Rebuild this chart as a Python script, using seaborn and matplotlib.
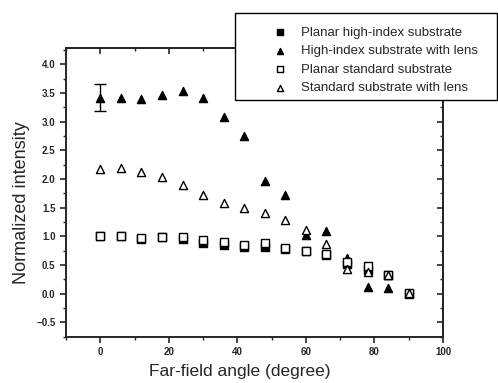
import matplotlib
matplotlib.use("Agg")
import matplotlib.pyplot as plt
from matplotlib.patches import Rectangle
from matplotlib.ticker import MultipleLocator
import seaborn as sns
import pandas as pd

angles = [0, 6, 12, 18, 24, 30, 36, 42, 48, 54, 60, 66, 72, 78, 84, 90]
planar_high = [1.00, 1.00, 0.96, 0.98, 0.95, 0.88, 0.85, 0.82, 0.81, 0.78, 0.74, 0.67, 0.52, 0.42, 0.33, 0.00]
lens_high = [3.42, 3.42, 3.40, 3.47, 3.54, 3.42, 3.08, 2.75, 1.96, 1.72, 1.03, 1.09, 0.63, 0.12, 0.09, 0.01]
planar_std = [1.01, 1.01, 0.97, 0.98, 0.98, 0.93, 0.90, 0.84, 0.88, 0.79, 0.75, 0.70, 0.55, 0.48, 0.33, 0.01]
lens_std = [2.17, 2.19, 2.12, 2.03, 1.90, 1.72, 1.58, 1.50, 1.40, 1.28, 1.11, 0.87, 0.43, 0.38, 0.33, 0.02]
err_x = 0
err_y = 3.42
err_lo, err_hi = 3.18, 3.65

series = [
    ("Planar high-index substrate", planar_high, "s", "black", 26),
    ("High-index substrate with lens", lens_high, "^", "black", 34),
    ("Planar standard substrate", planar_std, "s", "white", 26),
    ("Standard substrate with lens", lens_std, "^", "white", 34),
]

sns.set_style("ticks")
plt.rcParams["font.family"] = ["Liberation Sans", "DejaVu Sans"]

fig = plt.figure(figsize=(4.98, 3.83), dpi=100)
ax = fig.add_axes([0.1325, 0.121, 0.757, 0.753])

for name, vals, mk, fc, size in series:
    df = pd.DataFrame({"angle": angles, "intensity": vals})
    sns.scatterplot(data=df, x="angle", y="intensity", marker=mk, s=size,
                    color=fc, edgecolor="black", linewidth=1.0, label=name,
                    ax=ax, zorder=3)

ax.errorbar([err_x], [err_y], yerr=[[err_y - err_lo], [err_hi - err_y]],
            fmt="none", ecolor="black", elinewidth=1.0, capsize=4, capthick=1.0, zorder=2)

ax.set_xlim(-10, 100)
ax.set_ylim(-0.75, 4.28)
ax.xaxis.set_major_locator(MultipleLocator(20))
ax.xaxis.set_minor_locator(MultipleLocator(10))
ax.set_yticks([-0.5, 0, 0.5, 1, 1.5, 2, 2.5, 3, 3.5, 4.0])
ax.yaxis.set_minor_locator(MultipleLocator(0.25))

for sp in ax.spines.values():
    sp.set_visible(True)
    sp.set_linewidth(1.4)
ax.tick_params(which="major", direction="out", length=4, width=1.2, labelsize=7)
ax.tick_params(which="minor", direction="out", length=2.5, width=1.0)
for lab in ax.get_xticklabels() + ax.get_yticklabels():
    lab.set_fontweight("bold")

# inward ticks on the top and right frame
top = ax.secondary_xaxis("top")
top.xaxis.set_major_locator(MultipleLocator(20))
top.xaxis.set_minor_locator(MultipleLocator(10))
top.tick_params(which="major", direction="in", length=4, width=1.2, labeltop=False)
top.tick_params(which="minor", direction="in", length=2.5, width=1.0)
top.spines["top"].set_linewidth(1.4)
right = ax.secondary_yaxis("right")
right.set_yticks([-0.5, 0, 0.5, 1, 1.5, 2, 2.5, 3, 3.5, 4.0])
right.yaxis.set_minor_locator(MultipleLocator(0.25))
right.tick_params(which="major", direction="in", length=4, width=1.2, labelright=False)
right.tick_params(which="minor", direction="in", length=2.5, width=1.0)
right.spines["right"].set_linewidth(1.4)

ax.set_xlabel("Far-field angle (degree)", fontsize=12.5)
ax.xaxis.set_label_coords(0.46, -0.095)
ax.set_ylabel("Normalized intensity", fontsize=13)
ax.yaxis.set_label_coords(-0.096, 0.465)

# legend: white box over the top-right corner, entries inset
handles, labels = ax.get_legend_handles_labels()
ax.get_legend().remove()
box = Rectangle((0.472, 0.739), 0.526, 0.227, transform=fig.transFigure,
                facecolor="white", edgecolor="black", linewidth=1.0, zorder=4)
fig.patches.append(box)
leg = fig.legend(handles, labels, loc="upper left", bbox_to_anchor=(0.548, 0.931),
                 fontsize=9.5, frameon=False, handletextpad=1.05, labelspacing=0.47,
                 borderpad=0, borderaxespad=0, handlelength=1.1, markerscale=0.75)
leg.set_zorder(5)

fig.savefig("out.png", dpi=100)
